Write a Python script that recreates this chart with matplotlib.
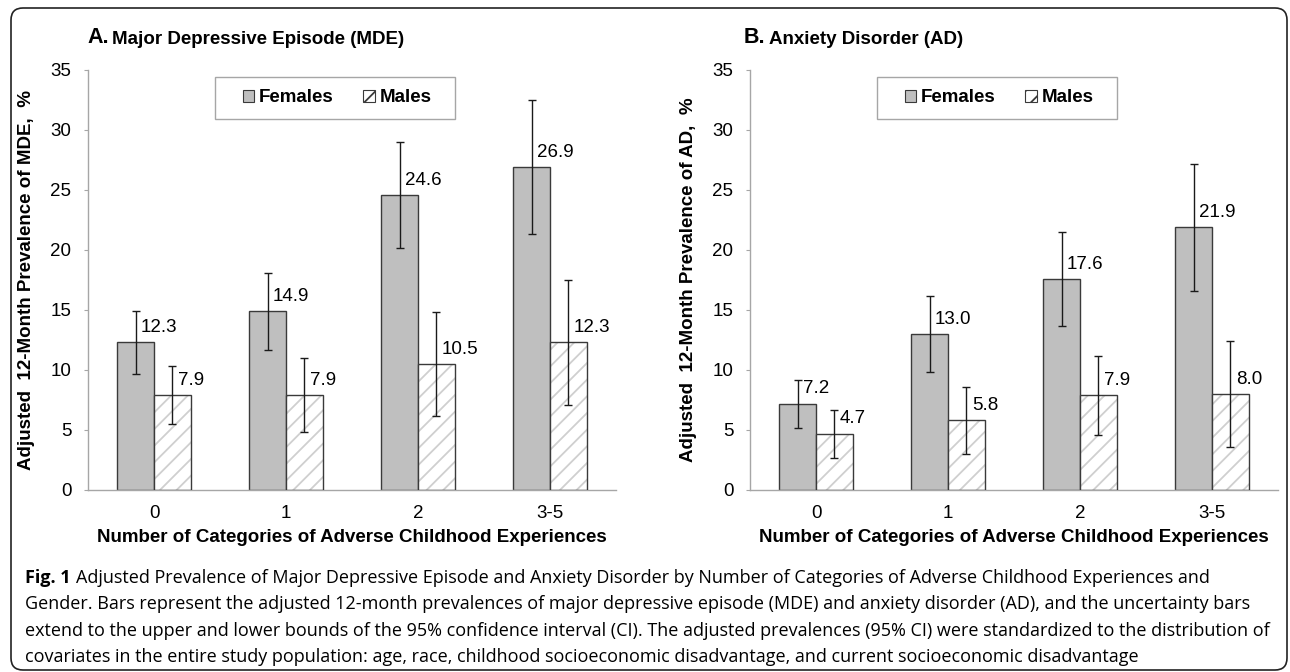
import numpy as np
import matplotlib.pyplot as plt
from matplotlib.patches import FancyBboxPatch, Patch, Rectangle

# data
categories = ["0", "1", "2", "3-5"]

mde_female = [12.3, 14.9, 24.6, 26.9]
mde_female_lo = [9.7, 11.7, 20.2, 21.3]
mde_female_hi = [14.9, 18.1, 29.0, 32.5]
mde_male = [7.9, 7.9, 10.5, 12.3]
mde_male_lo = [5.5, 4.8, 6.2, 7.1]
mde_male_hi = [10.3, 11.0, 14.8, 17.5]

ad_female = [7.2, 13.0, 17.6, 21.9]
ad_female_lo = [5.2, 9.8, 13.7, 16.6]
ad_female_hi = [9.2, 16.2, 21.5, 27.2]
ad_male = [4.7, 5.8, 7.9, 8.0]
ad_male_lo = [2.7, 3.0, 4.6, 3.6]
ad_male_hi = [6.7, 8.6, 11.2, 12.4]

caption = [
    "Adjusted Prevalence of Major Depressive Episode and Anxiety Disorder by Number of Categories of Adverse Childhood Experiences and",
    "Gender. Bars represent the adjusted 12-month prevalences of major depressive episode (MDE) and anxiety disorder (AD), and the uncertainty bars",
    "extend to the upper and lower bounds of the 95% confidence interval (CI). The adjusted prevalences (95% CI) were standardized to the distribution of",
    "covariates in the entire study population: age, race, childhood socioeconomic disadvantage, and current socioeconomic disadvantage",
]

plt.rcParams['font.family'] = ['Liberation Sans', 'DejaVu Sans']
plt.rcParams['hatch.linewidth'] = 1.3

W, H = 1290, 672
fig = plt.figure(figsize=(W / 100, H / 100), dpi=100)


def fx(px):
    return px / W


def fy(py):
    return 1 - py / H


FEM_COLOR = '#BFBFBF'
EDGE = '#3a3a3a'
AXIS_GRAY = '#A6A6A6'
FS = 13.5


def draw_panel(ax, fem, fem_lo, fem_hi, male, male_lo, male_hi, ylabel):
    x = np.arange(len(categories))
    w = 0.28
    ax.bar(x - w / 2, fem, w, color=FEM_COLOR, edgecolor=EDGE, linewidth=1, zorder=2)
    ax.bar(x + w / 2, male, w, color='white', edgecolor='#CFCFCF', hatch='//', linewidth=0, zorder=2)
    ax.bar(x + w / 2, male, w, fill=False, edgecolor=EDGE, linewidth=1, zorder=3)

    fem = np.array(fem)
    male = np.array(male)
    ax.errorbar(x - w / 2, fem, yerr=[fem - np.array(fem_lo), np.array(fem_hi) - fem],
                fmt='none', ecolor='#1a1a1a', elinewidth=1, capsize=3, capthick=1, zorder=4)
    ax.errorbar(x + w / 2, male, yerr=[male - np.array(male_lo), np.array(male_hi) - male],
                fmt='none', ecolor='#1a1a1a', elinewidth=1, capsize=3, capthick=1, zorder=4)

    for xi, v in zip(x - w / 2, fem):
        ax.annotate(f"{v:.1f}", xy=(xi, v), xytext=(4, 4.5), textcoords='offset points',
                    ha='left', va='bottom', fontsize=FS)
    for xi, v in zip(x + w / 2, male):
        ax.annotate(f"{v:.1f}", xy=(xi, v), xytext=(4, 4.5), textcoords='offset points',
                    ha='left', va='bottom', fontsize=FS)

    ax.set_xlim(-0.5, 3.5)
    ax.set_ylim(0, 35)
    ax.set_yticks(range(0, 36, 5))
    ax.set_xticks(x)
    ax.set_xticklabels(categories)
    for s in ['top', 'right']:
        ax.spines[s].set_visible(False)
    for s in ['left', 'bottom']:
        ax.spines[s].set_color(AXIS_GRAY)
        ax.spines[s].set_linewidth(1)
    ax.tick_params(axis='y', length=3, color=AXIS_GRAY, labelsize=FS, pad=9)
    ax.tick_params(axis='x', length=0, labelsize=FS, pad=11)
    ax.set_xlabel("Number of Categories of Adverse Childhood Experiences",
                  fontsize=FS, fontweight='bold', labelpad=5)
    ax.set_ylabel(ylabel, fontsize=FS, fontweight='bold')
    ax.yaxis.set_label_coords(-0.1, 0.5)

    # legend box drawn separately so the padding matches the original
    ax.add_patch(Rectangle((127 / 528, (490 - 119) / 420), 240 / 528, 42 / 420,
                           transform=ax.transAxes, facecolor='white', edgecolor=AXIS_GRAY,
                           linewidth=1, zorder=5))
    handles = [Patch(facecolor=FEM_COLOR, edgecolor=EDGE, linewidth=0.8),
               Patch(facecolor='white', edgecolor=EDGE, hatch='//', linewidth=0.8)]
    leg = ax.legend(handles, ["Females", "Males"], loc='center',
                    bbox_to_anchor=((337 - 88) / 528, (490 - 98) / 420),
                    ncol=2, frameon=False, prop={'weight': 'bold', 'size': FS},
                    handlelength=0.6, handleheight=0.6, handletextpad=0.25, columnspacing=1.6)
    leg.set_zorder(6)


ax1 = fig.add_axes([fx(88), fy(490), 528 / W, 420 / H])
ax2 = fig.add_axes([fx(750), fy(490), 528 / W, 420 / H])

draw_panel(ax1, mde_female, mde_female_lo, mde_female_hi, mde_male, mde_male_lo, mde_male_hi,
           "Adjusted  12-Month Prevalence of MDE,  %")
draw_panel(ax2, ad_female, ad_female_lo, ad_female_hi, ad_male, ad_male_lo, ad_male_hi,
           "Adjusted  12-Month Prevalence of AD,  %")

# panel titles
for px, letter, name in [(87, "A.", "Major Depressive Episode (MDE)"),
                         (744, "B.", "Anxiety Disorder (AD)")]:
    t = fig.text(fx(px), fy(43), letter, fontsize=15.5, fontweight='bold', va='baseline')
    ax1.annotate(name, xy=(1, 0), xycoords=t, xytext=(2.5, 0), textcoords='offset points',
                 ha='left', va='bottom', fontsize=FS, fontweight='bold', annotation_clip=False)

# outer frame
frame = FancyBboxPatch((11 / 100, (H - 670) / 100), (1287 - 11) / 100, (670 - 8) / 100,
                       boxstyle="round,pad=0,rounding_size=0.12", transform=fig.dpi_scale_trans,
                       fill=False, edgecolor='#222222', linewidth=1.2)
fig.patches.append(frame)

# caption
cap_font = ['Open Sans', 'DejaVu Sans']
cap_y = [583, 609, 636, 662]
t = fig.text(fx(25), fy(cap_y[0]), "Fig. 1", fontsize=13, fontweight='bold',
             family=cap_font, va='baseline')
ax1.annotate(caption[0], xy=(1, 0), xycoords=t, xytext=(4, 0), textcoords='offset points',
             ha='left', va='bottom', fontsize=13, family=cap_font, annotation_clip=False)
for yy, line in zip(cap_y[1:], caption[1:]):
    fig.text(fx(25), fy(yy), line, fontsize=13, family=cap_font, va='baseline')

fig.savefig("out.png", dpi=100)
